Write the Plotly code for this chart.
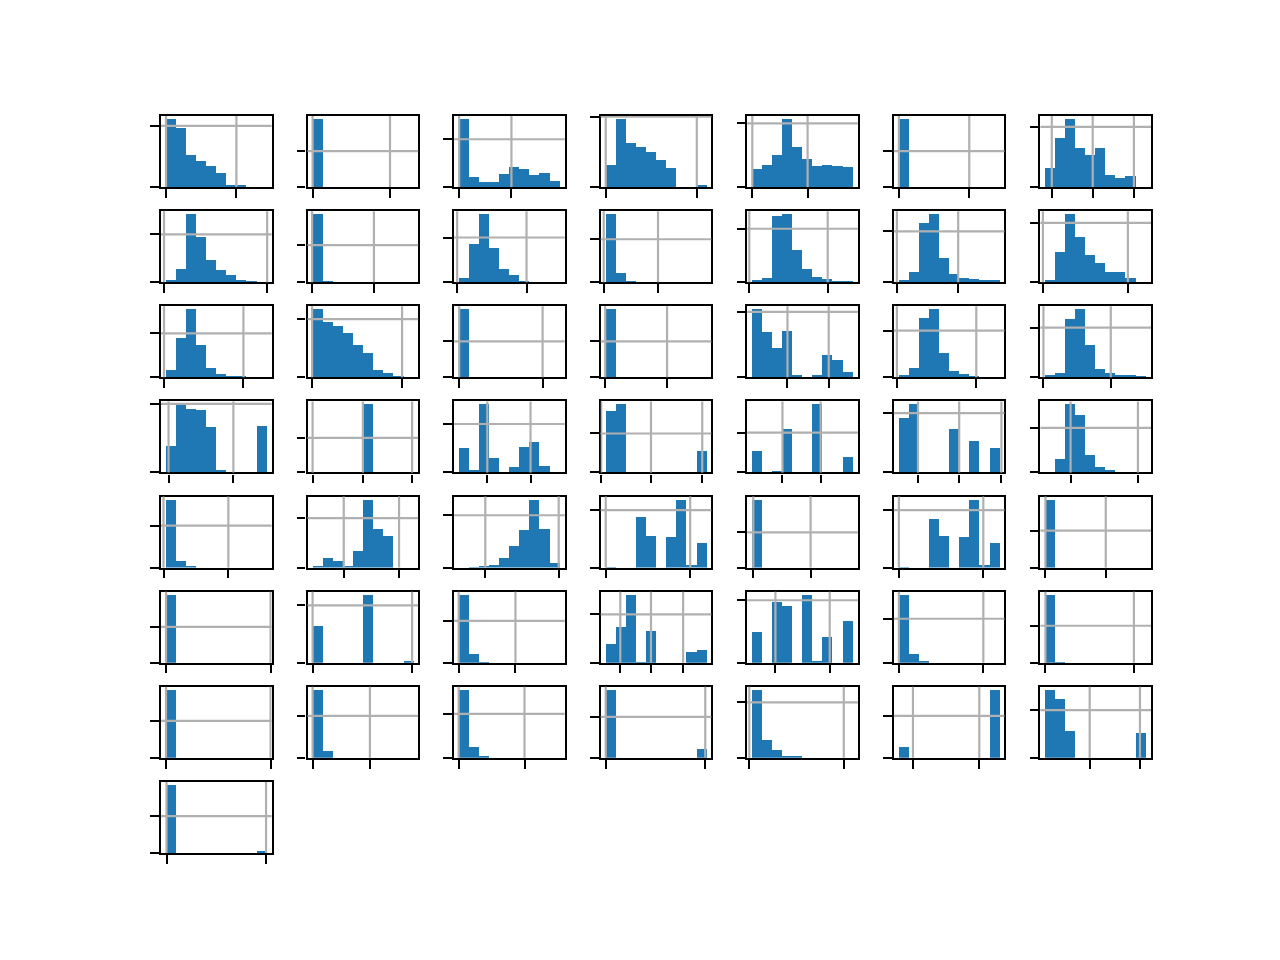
import plotly.graph_objects as go
from plotly.subplots import make_subplots

# Bar heights per histogram (10 bins each), as % of the tallest bin
counts_row1 = [
    [100, 87, 47, 38, 31, 21, 3.4, 2, 0, 0],
    [100, 0, 0, 0, 0, 0, 0, 0, 0, 0],
    [100, 15.5, 7.7, 7.7, 19.4, 29.5, 27, 17, 21, 9],
    [32.4, 100, 65, 58.5, 52, 40, 28.5, 0, 0, 2],
    [27, 32.4, 47, 100, 58.5, 42, 31, 32.4, 31, 29.5],
    [100, 0, 0, 0, 0, 0, 0, 0, 0, 0],
    [28.5, 73, 100, 57.6, 47, 58, 17, 14, 16.4, 0],
]
counts_row2 = [
    [2, 19.4, 100, 67, 32.4, 18, 10.6, 3.4, 1, 0],
    [100, 1, 0, 0, 0, 0, 0, 0, 0, 0],
    [5.8, 56, 100, 50, 19.4, 9.7, 1, 0, 0, 0],
    [100, 13.5, 1, 0, 0, 0, 0, 0, 0, 0],
    [3.4, 5.8, 98, 100, 47, 19.4, 7.3, 4.4, 1, 1],
    [3.4, 15.5, 87.6, 100, 36, 12, 6.3, 4.8, 2.4, 2.4],
    [3.4, 44, 100, 67, 40, 28.5, 15.5, 15.5, 6.3, 0],
]
counts_row3 = [
    [10.6, 57.6, 100, 47, 13.5, 4.8, 1, 1, 0, 0],
    [100, 82, 76, 65, 47, 35, 10.6, 5.8, 1, 0],
    [100, 0, 0, 0, 0, 0, 0, 0, 0, 0],
    [100, 0, 0, 0, 0, 0, 0, 0, 0, 0],
    [100, 67, 42.6, 68, 3.4, 0, 3.4, 32.4, 25, 7.7],
    [2.4, 13.5, 87.6, 100, 35, 9.2, 3.9, 1, 0, 0],
    [2.4, 5.8, 86, 100, 47, 12, 6.3, 2, 1.5, 1],
]
counts_row4 = [
    [38, 100, 93.5, 92, 66.5, 3.5, 0, 0, 0, 68],
    [0, 0, 0, 0, 0, 100, 0, 0, 0, 0],
    [35, 3.4, 100, 21, 0, 7.7, 36.8, 44, 9.2, 0],
    [89.5, 100, 0, 0, 0, 0, 0, 0, 0, 31],
    [31, 0, 1, 63, 0, 0, 100, 0, 0, 22],
    [80, 100, 0, 0, 0, 63, 0, 46, 0, 35],
    [0, 19.4, 100, 84.7, 25, 7.7, 2, 0, 0, 0],
]
counts_row5 = [
    [100, 10.6, 2, 0, 0, 0, 0, 0, 0, 0],
    [3.4, 15, 10.6, 2, 25, 100, 57.6, 47, 0, 0],
    [0, 1, 2.5, 4.4, 15, 32.4, 56, 100, 57.6, 7.7],
    [1, 0, 0, 75, 47, 0, 45.5, 100, 4.8, 36.8],
    [100, 0, 0, 0, 0, 0, 0, 0, 0, 0],
    [1, 0, 0, 73, 47, 0, 45.5, 100, 4.8, 36.8],
    [100, 0, 0, 0, 0, 0, 0, 0, 0, 0],
]
counts_row6 = [
    [100, 0, 0, 0, 0, 0, 0, 0, 0, 0],
    [54.7, 0, 0, 0, 0, 100, 0, 0, 0, 3.4],
    [100, 13.5, 1, 0, 0, 0, 0, 0, 0, 0],
    [28.5, 52.7, 100, 1, 47, 0, 0, 0, 16.4, 19.4],
    [45.5, 0, 90.5, 84.7, 0, 100, 2, 38, 0, 61.4],
    [100, 13.5, 2.4, 0, 0, 0, 0, 0, 0, 0],
    [100, 1, 0, 0, 0, 0, 0, 0, 0, 0],
]
counts_row7 = [
    [100, 0, 0, 0, 0, 0, 0, 0, 0, 0],
    [100, 10.6, 0, 0, 0, 0, 0, 0, 0, 0],
    [100, 16.4, 2, 0, 0, 0, 0, 0, 0, 0],
    [100, 0, 0, 0, 0, 0, 0, 0, 0, 13.5],
    [100, 26.6, 12, 3.4, 2, 0, 0, 0, 0, 0],
    [16.4, 0, 0, 0, 0, 0, 0, 0, 0, 100],
    [100, 87.6, 40, 0, 0, 0, 0, 0, 0, 36.8],
]
counts_row8 = [
    [100, 0, 0, 0, 0, 0, 0, 0, 0, 3.4],
]

# x tick positions (in bin units, 0..10) per histogram
xticks_row1 = [[0, 7.0], [0, 7.7], [0, 5.2], [0, 9.06], [0, 5.5], [0, 7.0], [0.63, 4.7, 8.8]]
xticks_row2 = [[-0.2, 10.06], [-0.05, 6.1], [-0.2, 6.7], [-0.2, 5.2], [-0.3, 7.5], [-0.2, 5.9], [-0.25, 8.2]]
xticks_row3 = [[-0.2, 7.7], [-0.05, 8.9], [0, 8.3], [-0.05, 6.1], [3.5, 7.6], [-0.2, 7.7], [-0.2, 6.5]]
xticks_row4 = [[0.25, 6.7], [0, 5.0, 9.9], [2.8, 7.1], [-0.45, 4.5, 9.6], [3.0, 6.8], [1.9, 6.0, 10.2], [2.5, 9.2]]
xticks_row5 = [[-0.25, 6.2], [3.1, 8.6], [2.6, 9.9], [0, 8.4], [0.1, 5.8], [0, 8.4], [0, 6.0]]
xticks_row6 = [[0, 10.4], [0, 9.9], [-0.05, 5.6], [1.45, 4.5, 7.7], [2.3, 7.7], [0, 8.4], [0, 8.8]]
xticks_row7 = [[0, 10.4], [0, 5.7], [-0.05, 6.5], [0, 9.9], [-0.3, 9.1], [1.4, 8.0], [4.4, 9.4]]
xticks_row8 = [[0.05, 9.95]]

# y tick (besides 0) per histogram, in % of tallest bin
yticks_row1 = [90.5, 53, 70.6, 104, 94, 53, 89]
yticks_row2 = [70.6, 54.7, 66, 63.4, 79, 75, 87.6]
yticks_row3 = [65, 86, 53, 53, 96.8, 69, 73.5]
yticks_row4 = [101.5, 51, 71.6, 57.6, 59, 87.6, 66]
yticks_row5 = [62, 73, 77.4, 85, 52, 85, 54.7]
yticks_row6 = [53, 84.7, 62, 71.6, 92.4, 65, 54.7]
yticks_row7 = [54.7, 62, 65, 60.5, 82, 62, 70.6]
yticks_row8 = [54.7]

counts = (counts_row1 + counts_row2 + counts_row3 + counts_row4 +
          counts_row5 + counts_row6 + counts_row7 + counts_row8)
xticks = (xticks_row1 + xticks_row2 + xticks_row3 + xticks_row4 +
          xticks_row5 + xticks_row6 + xticks_row7 + xticks_row8)
yticks = (yticks_row1 + yticks_row2 + yticks_row3 + yticks_row4 +
          yticks_row5 + yticks_row6 + yticks_row7 + yticks_row8)

NROWS, NCOLS = 8, 7
specs = [[{} for _ in range(NCOLS)] for _ in range(NROWS - 1)]
specs.append([{}] + [None] * (NCOLS - 1))

ML, MR, MT, MB = 153.1, 136.6, 108.3, 114.7
area_w = 1280 - ML - MR
area_h = 960 - MT - MB

fig = make_subplots(rows=NROWS, cols=NCOLS, specs=specs,
                    horizontal_spacing=36.0 / area_w,
                    vertical_spacing=24.16 / area_h)

BLUE = "#1f77b4"
GRID = "#b0b0b0"
LW = 2.2
centers = [i + 0.5 for i in range(10)]
shapes = []

for k, (cnt, xt, yt) in enumerate(zip(counts, xticks, yticks)):
    idx = k + 1
    r = k // NCOLS + 1
    c = k % NCOLS + 1
    fig.add_trace(go.Bar(x=centers, y=cnt, width=1.0, marker_color=BLUE,
                         marker_line_width=0, showlegend=False, hoverinfo="skip"),
                  row=r, col=c)
    fig.update_xaxes(range=[-0.5, 10.5], tickmode="array", tickvals=xt,
                     ticks="outside", ticklen=8.6, tickwidth=LW, tickcolor="black",
                     showticklabels=False, showline=True, linecolor="black",
                     linewidth=LW, mirror=True, showgrid=False, zeroline=False,
                     row=r, col=c)
    fig.update_yaxes(range=[0, 105], tickmode="array", tickvals=[0, yt],
                     ticks="outside", ticklen=8.6, tickwidth=LW, tickcolor="black",
                     showticklabels=False, showline=True, linecolor="black",
                     linewidth=LW, mirror=True, showgrid=False, zeroline=False,
                     row=r, col=c)
    xr = "x" if idx == 1 else f"x{idx}"
    yr = "y" if idx == 1 else f"y{idx}"
    for v in xt:
        shapes.append(dict(type="line", xref=xr, yref=f"{yr} domain",
                           x0=v, x1=v, y0=0, y1=1, layer="above",
                           line=dict(color=GRID, width=LW)))
    shapes.append(dict(type="line", xref=f"{xr} domain", yref=yr,
                       x0=0, x1=1, y0=yt, y1=yt, layer="above",
                       line=dict(color=GRID, width=LW)))

fig.update_layout(
    width=1280, height=960,
    margin=dict(l=ML, r=MR, t=MT, b=MB, pad=0),
    paper_bgcolor="white", plot_bgcolor="white",
    showlegend=False, bargap=0,
    shapes=shapes,
)

fig.write_html("out.html")
